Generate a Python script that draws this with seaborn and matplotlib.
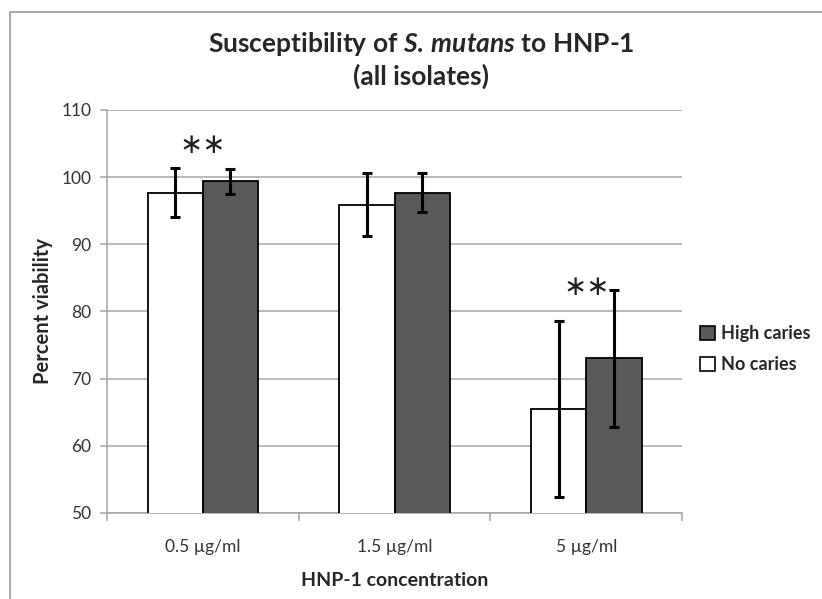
import matplotlib
matplotlib.use("Agg")
import matplotlib.pyplot as plt
from matplotlib.lines import Line2D
from matplotlib.patches import Patch
import seaborn as sns
import pandas as pd

# Data
concentrations = ["0.5 \u00b5g/ml", "1.5 \u00b5g/ml", "5 \u00b5g/ml"]
groups = ["No caries", "High caries"]
no_caries_mean = [97.7, 95.9, 65.5]
no_caries_err = [3.6, 4.7, 13.1]
high_caries_mean = [99.4, 97.7, 73.0]
high_caries_err = [1.85, 2.9, 10.2]
significance = ["**", "", "**"]
significance_y = [104.8, None, 83.7]
y_ticks = [50, 60, 70, 80, 90, 100, 110]

df = pd.DataFrame({
    "concentration": concentrations * 2,
    "group": [groups[0]] * 3 + [groups[1]] * 3,
    "viability": no_caries_mean + high_caries_mean,
})

sns.set_theme(style="white")
plt.rcParams["font.family"] = ["Lato", "DejaVu Sans"]
plt.rcParams["mathtext.fontset"] = "custom"
plt.rcParams["mathtext.it"] = "Lato:italic:bold"
plt.rcParams["mathtext.rm"] = "Lato:bold"

colors = {"No caries": "#ffffff", "High caries": "#595959"}

fig = plt.figure(figsize=(8.22, 5.99), dpi=100)
ax = fig.add_axes([0.130, 0.1436, 0.700, 0.6728])

sns.barplot(data=df, x="concentration", y="viability", hue="group",
            hue_order=groups, order=concentrations, palette=colors,
            width=0.575, edgecolor="black", linewidth=1.3, ax=ax,
            legend=False, zorder=3)

# Error bars at bar centres
errs = {"No caries": no_caries_err, "High caries": high_caries_err}
means = {"No caries": no_caries_mean, "High caries": high_caries_mean}
for container, g in zip(ax.containers, groups):
    xs = [p.get_x() + p.get_width() / 2 for p in container.patches]
    ax.errorbar(xs, means[g], yerr=errs[g], fmt="none", ecolor="black",
                elinewidth=2.2, capsize=3.5, capthick=2.2, zorder=4)

# Significance markers
for i, (s, y) in enumerate(zip(significance, significance_y)):
    if s:
        ax.text(i, y, s.replace("*", "\u2217"), ha="center", va="center",
                fontsize=20, color="#222222", family="DejaVu Sans", zorder=5)

ax.set_ylim(50, 110)
ax.set_xlim(-0.5, 2.5)
ax.set_yticks(y_ticks)
ax.yaxis.grid(True, color="#a6a6a6", linewidth=1.1, zorder=0)
ax.set_axisbelow(True)

for side in ["top", "right"]:
    ax.spines[side].set_visible(False)
for side in ["left", "bottom"]:
    ax.spines[side].set_color("#a6a6a6")
    ax.spines[side].set_linewidth(1.1)

ax.tick_params(axis="y", which="major", direction="out", length=5,
               color="#a6a6a6", width=1.1, labelsize=12.5, labelcolor="#333333",
               left=True, pad=6)
ax.set_xticks(range(len(concentrations)))
ax.set_xticklabels(concentrations)
ax.set_xticks([-0.5, 0.5, 1.5, 2.5], minor=True)
ax.tick_params(axis="x", which="major", length=0, labelsize=12.5,
               labelcolor="#333333", pad=19)
ax.tick_params(axis="x", which="minor", direction="out", length=6,
               color="#a6a6a6", width=1.1, bottom=True)

ax.set_xlabel("HNP-1 concentration", fontsize=14, fontweight="bold",
              labelpad=12)
ax.set_ylabel("Percent viability", fontsize=14.5, fontweight="bold",
              labelpad=6)

fig.text(0.512, 0.926, r"Susceptibility of $\mathit{S.\,mutans}$ to HNP-1",
         ha="center", va="center", fontsize=19, fontweight="bold")
fig.text(0.512, 0.873, "(all isolates)", ha="center", va="center",
         fontsize=19, fontweight="bold")

handles = [Patch(facecolor=colors["High caries"], edgecolor="black", linewidth=1.2),
           Patch(facecolor=colors["No caries"], edgecolor="black", linewidth=1.2)]
fig.legend(handles, ["High caries", "No caries"], loc="center left",
           bbox_to_anchor=(0.832, 0.417), frameon=False,
           prop={"weight": "bold", "size": 13}, handlelength=0.8,
           handleheight=0.8, handletextpad=0.35, labelspacing=0.75)

# Outer chart frame
fig.add_artist(Line2D([10 / 822, 10 / 822], [0, 1 - 12 / 599],
                      color="#a0a0a0", linewidth=1.3, transform=fig.transFigure))
fig.add_artist(Line2D([10 / 822, 1], [1 - 12 / 599, 1 - 12 / 599],
                      color="#a0a0a0", linewidth=1.3, transform=fig.transFigure))

fig.savefig("out.png", dpi=100, facecolor="white")
